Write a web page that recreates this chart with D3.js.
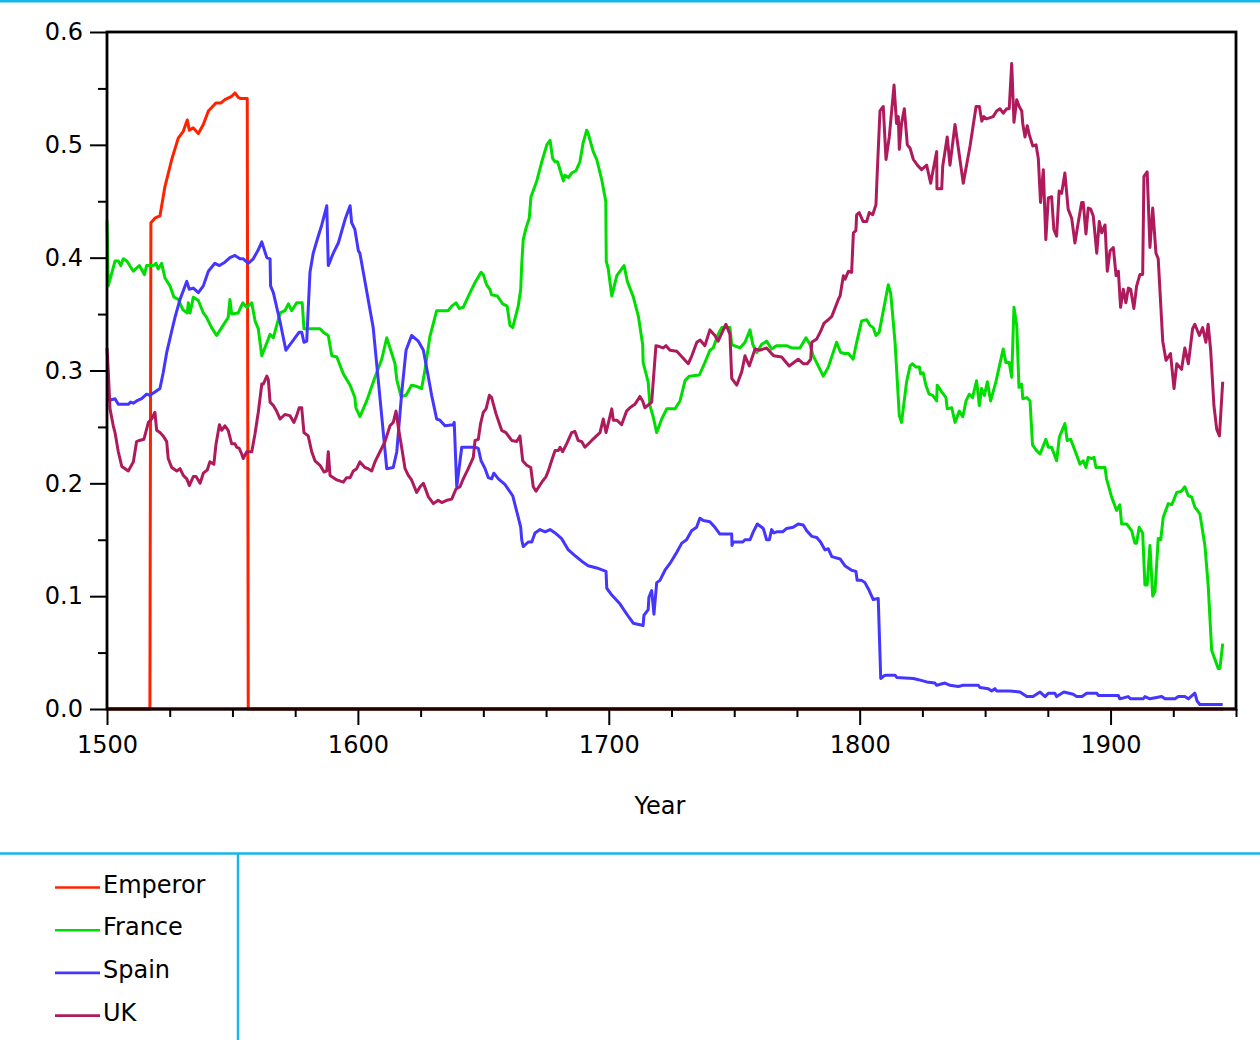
<!DOCTYPE html>
<html>
<head>
<meta charset="utf-8">
<script src="https://cdn.jsdelivr.net/npm/d3@7"></script>
<style>
  body { margin: 0; background: #fff; }
  svg { display: block; font-family: "DejaVu Sans", sans-serif; }
</style>
</head>
<body>
<div id="chart"></div>
<script>
// series: [year, share]
var emperor = [[1500,0],[1517.1,0],[1517.5,0.431],[1519.1,0.435],[1521.1,0.437],[1523.1,0.463],[1525.8,0.487],[1528.4,0.506],[1530.4,0.512],[1532,0.522],[1532.8,0.513],[1534.4,0.515],[1536.4,0.510],[1538.4,0.518],[1540.4,0.530],[1543.4,0.537],[1545.3,0.537],[1547,0.540],[1549.7,0.543],[1551,0.546],[1552.3,0.542],[1553.4,0.541],[1555.9,0.541],[1556.3,0],[1945,0]];

var france = [[1500,0.433],[1500.5,0.375],[1503.2,0.397],[1504.5,0.397],[1505.5,0.393],[1506.5,0.399],[1507.9,0.397],[1510.5,0.388],[1512.9,0.393],[1514.9,0.385],[1515.8,0.393],[1518.5,0.393],[1519.5,0.395],[1520.4,0.390],[1521.8,0.395],[1523.1,0.382],[1525.1,0.375],[1526.7,0.365],[1528.4,0.363],[1530.2,0.354],[1532,0.351],[1532.4,0.360],[1533.1,0.351],[1534.4,0.365],[1536.4,0.362],[1538.4,0.351],[1539.7,0.347],[1541.7,0.338],[1543.7,0.331],[1545.7,0.338],[1548.3,0.347],[1549,0.363],[1549.7,0.350],[1552.3,0.351],[1554.1,0.360],[1555.7,0.356],[1557.7,0.360],[1559,0.344],[1560.3,0.337],[1561.7,0.313],[1565,0.332],[1566.3,0.329],[1569,0.351],[1570.9,0.353],[1572.3,0.359],[1573.6,0.353],[1575.6,0.360],[1577.8,0.360],[1578.5,0.337],[1584.9,0.337],[1586.2,0.334],[1588.2,0.331],[1589.6,0.313],[1591.6,0.312],[1594.2,0.297],[1596.9,0.287],[1598.8,0.276],[1599.2,0.267],[1600.8,0.259],[1603.5,0.273],[1606.8,0.294],[1609.5,0.310],[1611.5,0.329],[1614.8,0.306],[1615.5,0.292],[1617.2,0.277],[1619.2,0.278],[1621.4,0.287],[1623.4,0.286],[1625.4,0.284],[1626.7,0.300],[1628.7,0.330],[1631.4,0.353],[1636,0.353],[1637.4,0.357],[1639.1,0.360],[1640.4,0.355],[1642,0.356],[1644.7,0.369],[1646.7,0.378],[1649.1,0.387],[1650,0.385],[1651.3,0.376],[1652.6,0.372],[1653.3,0.367],[1655.6,0.366],[1657.7,0.359],[1659.5,0.357],[1660.6,0.340],[1661.7,0.338],[1663.9,0.357],[1664.9,0.372],[1665.3,0.394],[1665.9,0.416],[1667,0.426],[1668.3,0.435],[1669,0.454],[1671.3,0.468],[1673.3,0.485],[1675.3,0.500],[1676.6,0.504],[1677.6,0.488],[1678.6,0.485],[1679.6,0.485],[1681.9,0.468],[1682.5,0.473],[1683.9,0.471],[1685.2,0.475],[1686.9,0.477],[1688.5,0.485],[1689.8,0.502],[1691.2,0.513],[1691.8,0.510],[1693.8,0.494],[1695.2,0.487],[1697.2,0.469],[1698.8,0.450],[1699,0.397],[1699.8,0.390],[1701.2,0.366],[1703.2,0.384],[1706.1,0.393],[1707.4,0.379],[1709.8,0.365],[1711.8,0.348],[1713.5,0.323],[1713.7,0.307],[1715.7,0.290],[1716.4,0.269],[1717.7,0.259],[1719.1,0.245],[1721.1,0.257],[1723.1,0.266],[1726.4,0.266],[1728.4,0.273],[1730.4,0.291],[1732.1,0.295],[1736.1,0.296],[1738.3,0.307],[1740.3,0.318],[1741.6,0.320],[1743.6,0.332],[1745,0.338],[1748.3,0.338],[1749,0.323],[1752.3,0.320],[1754.3,0.325],[1756.3,0.336],[1757.4,0.323],[1759,0.316],[1760.9,0.323],[1762.9,0.326],[1764.9,0.319],[1766.9,0.322],[1770.9,0.322],[1772.9,0.320],[1776.2,0.320],[1778.6,0.329],[1780.2,0.323],[1781.5,0.313],[1785.5,0.295],[1787.5,0.303],[1790.8,0.325],[1792.4,0.316],[1794.1,0.315],[1795.5,0.315],[1797.4,0.310],[1798.8,0.325],[1800.8,0.344],[1802.8,0.345],[1804.1,0.340],[1805.4,0.338],[1806.5,0.331],[1807.8,0.334],[1811.4,0.376],[1812.4,0.368],[1814.1,0.325],[1815.8,0.260],[1816.7,0.254],[1818.7,0.290],[1820.1,0.304],[1821.1,0.306],[1822.4,0.303],[1823.8,0.303],[1824.3,0.297],[1825.3,0.298],[1826.4,0.287],[1827.7,0.279],[1829.1,0.278],[1830.7,0.273],[1830.9,0.287],[1832.7,0.281],[1834.4,0.276],[1834.9,0.266],[1836.7,0.267],[1838,0.254],[1839.7,0.264],[1841.1,0.259],[1842.4,0.273],[1843.7,0.279],[1845,0.276],[1846.6,0.291],[1847.7,0.269],[1848.6,0.284],[1849.7,0.278],[1850.9,0.290],[1852.2,0.273],[1854.3,0.290],[1857.2,0.319],[1858.3,0.307],[1859.6,0.307],[1860.6,0.294],[1861.5,0.356],[1862.6,0.340],[1863.5,0.285],[1864.6,0.288],[1865,0.275],[1866.6,0.276],[1867.9,0.273],[1868.9,0.234],[1870.5,0.229],[1871.9,0.226],[1874.2,0.239],[1875.2,0.232],[1876.5,0.232],[1878.5,0.220],[1879.6,0.241],[1881.8,0.253],[1882.7,0.238],[1884.1,0.239],[1886.5,0.225],[1887.8,0.217],[1889.1,0.220],[1890.2,0.214],[1891.1,0.223],[1892.5,0.222],[1893.4,0.223],[1894.2,0.214],[1897.8,0.214],[1898.4,0.204],[1900.4,0.188],[1902.4,0.176],[1903.7,0.181],[1904.4,0.164],[1906.4,0.164],[1908.4,0.158],[1909.7,0.147],[1910.4,0.147],[1911.4,0.161],[1912.8,0.156],[1913.7,0.110],[1914.6,0.110],[1915.7,0.145],[1916.8,0.100],[1917.7,0.104],[1919,0.151],[1920,0.150],[1921,0.170],[1923,0.182],[1924.4,0.181],[1926.4,0.192],[1928.3,0.193],[1929.6,0.197],[1931,0.189],[1932.3,0.188],[1933.6,0.179],[1935.6,0.173],[1937.6,0.145],[1938.9,0.110],[1940.3,0.052],[1942.9,0.036],[1943.6,0.036],[1944.7,0.058]];

var spain = [[1500,0.273],[1503.2,0.275],[1504.5,0.270],[1508.5,0.270],[1509.4,0.272],[1510.5,0.271],[1511.8,0.273],[1513.8,0.275],[1515.8,0.279],[1517.1,0.278],[1519.1,0.281],[1521.1,0.284],[1522.4,0.298],[1523.8,0.316],[1525.8,0.335],[1527.1,0.347],[1529.1,0.363],[1531.8,0.379],[1532.8,0.372],[1534.4,0.373],[1536.4,0.369],[1538.4,0.375],[1540.4,0.388],[1543,0.395],[1544.8,0.393],[1547,0.396],[1549,0.400],[1551,0.402],[1553,0.399],[1554.3,0.399],[1556.3,0.395],[1558.3,0.399],[1560.3,0.407],[1561.7,0.414],[1563.7,0.400],[1565,0.399],[1565.2,0.375],[1566.3,0.369],[1569,0.343],[1571.3,0.318],[1573.6,0.325],[1576.6,0.334],[1577.6,0.334],[1578.5,0.325],[1579.6,0.326],[1580.9,0.387],[1582.2,0.404],[1584.2,0.419],[1585.6,0.429],[1587.6,0.446],[1588.2,0.393],[1590.2,0.404],[1592.2,0.413],[1594.9,0.434],[1596.9,0.446],[1597.5,0.431],[1598.8,0.425],[1600.2,0.406],[1600.8,0.404],[1602.8,0.379],[1606.1,0.338],[1608.1,0.292],[1611.5,0.213],[1614.1,0.214],[1615.5,0.228],[1617.5,0.281],[1619.2,0.318],[1621.4,0.331],[1624.1,0.326],[1626.1,0.318],[1628.1,0.294],[1629.4,0.278],[1631.4,0.257],[1632.7,0.256],[1634.7,0.251],[1638,0.252],[1638.4,0.254],[1639.4,0.197],[1641.4,0.232],[1646.7,0.232],[1648,0.231],[1649.1,0.220],[1650.7,0.213],[1652,0.205],[1653.3,0.204],[1654.2,0.209],[1656,0.204],[1658.6,0.199],[1661.7,0.189],[1663.9,0.170],[1664.9,0.161],[1665.3,0.150],[1665.9,0.144],[1667.9,0.148],[1669.3,0.148],[1670.6,0.156],[1672.6,0.159],[1674.6,0.157],[1676.6,0.159],[1678.6,0.156],[1681.2,0.151],[1683.9,0.141],[1686.5,0.136],[1689.2,0.131],[1691.8,0.127],[1695.2,0.125],[1698.9,0.122],[1699.2,0.107],[1701.2,0.101],[1704.5,0.093],[1707.8,0.082],[1709.8,0.076],[1713.7,0.074],[1714,0.083],[1715.7,0.088],[1716,0.099],[1717.1,0.105],[1718,0.084],[1719.1,0.112],[1720.4,0.114],[1722.4,0.123],[1724.4,0.129],[1727.1,0.139],[1729.1,0.147],[1731,0.150],[1733,0.158],[1735,0.161],[1736.3,0.169],[1737.7,0.167],[1740.3,0.166],[1742.3,0.161],[1744.3,0.155],[1749,0.155],[1749.1,0.145],[1749.6,0.148],[1753.4,0.148],[1754.3,0.150],[1756.3,0.150],[1757.6,0.157],[1759.2,0.164],[1761.6,0.160],[1762.9,0.150],[1764,0.150],[1764.9,0.159],[1765.8,0.156],[1766.9,0.157],[1769.3,0.157],[1770.9,0.160],[1773.5,0.161],[1775.5,0.164],[1777.5,0.163],[1778.9,0.158],[1780.9,0.153],[1782.9,0.152],[1784.4,0.148],[1786.2,0.141],[1787.5,0.142],[1788.9,0.135],[1792.2,0.133],[1794.1,0.127],[1796.8,0.123],[1798.5,0.122],[1799,0.114],[1800.8,0.114],[1802.1,0.112],[1803.8,0.105],[1805.4,0.097],[1807.4,0.098],[1808.4,0.027],[1810.1,0.030],[1814.1,0.030],[1814.8,0.028],[1821.4,0.027],[1823.4,0.026],[1826.7,0.024],[1830,0.023],[1830.7,0.021],[1834,0.023],[1836,0.021],[1839.3,0.020],[1841.3,0.021],[1847.3,0.021],[1848,0.019],[1851.3,0.018],[1852.6,0.016],[1853.9,0.018],[1854.6,0.016],[1859.9,0.016],[1863.9,0.015],[1866.6,0.011],[1869.1,0.011],[1871.9,0.015],[1873.9,0.011],[1875.2,0.014],[1877.8,0.014],[1878.5,0.011],[1881.4,0.015],[1885.1,0.013],[1886.5,0.011],[1888.6,0.011],[1890.5,0.014],[1894.5,0.014],[1895.1,0.012],[1903.1,0.012],[1903.7,0.009],[1907,0.011],[1908,0.009],[1913,0.009],[1913.7,0.011],[1915.7,0.009],[1920.4,0.011],[1921.7,0.009],[1925.7,0.009],[1927,0.011],[1929.6,0.011],[1931,0.009],[1933.6,0.014],[1934.5,0.007],[1935.6,0.004],[1944.7,0.004]];

var uk = [[1500,0.320],[1500.5,0.300],[1501.2,0.266],[1502.5,0.251],[1503.2,0.245],[1504.5,0.228],[1505.9,0.215],[1508.5,0.211],[1510.5,0.219],[1511.8,0.237],[1512.9,0.238],[1514.7,0.239],[1516.5,0.254],[1517.8,0.257],[1519.1,0.263],[1519.8,0.247],[1521.1,0.245],[1522.4,0.242],[1523.8,0.237],[1524.4,0.222],[1525.8,0.214],[1527.8,0.211],[1529.1,0.213],[1530.4,0.207],[1531.8,0.204],[1532.8,0.198],[1534.4,0.206],[1535.5,0.206],[1537.1,0.200],[1538.4,0.209],[1540,0.212],[1541,0.219],[1542.6,0.217],[1543.4,0.234],[1544.8,0.252],[1545.7,0.247],[1547,0.251],[1548.3,0.247],[1549.7,0.235],[1551,0.235],[1551.7,0.232],[1552.7,0.231],[1553.7,0.226],[1554.3,0.222],[1555.7,0.228],[1557.7,0.228],[1559,0.244],[1560.3,0.263],[1561.7,0.288],[1562.3,0.288],[1563.7,0.295],[1564.3,0.292],[1565,0.272],[1566.3,0.269],[1567.6,0.264],[1569,0.257],[1570.9,0.261],[1572.9,0.260],[1574.5,0.254],[1575.6,0.260],[1576.6,0.267],[1577.6,0.267],[1578.5,0.245],[1580.2,0.242],[1581.6,0.228],[1582.9,0.220],[1584.9,0.216],[1586.5,0.210],[1587.6,0.211],[1588.2,0.228],[1588.9,0.207],[1591.6,0.203],[1594.2,0.201],[1595.5,0.205],[1596.9,0.205],[1598.2,0.211],[1599.5,0.213],[1600.8,0.219],[1602.8,0.214],[1604.1,0.213],[1605.5,0.211],[1606.8,0.219],[1608.8,0.228],[1610.8,0.237],[1612.8,0.251],[1614.1,0.254],[1615.2,0.264],[1616.1,0.250],[1617.5,0.231],[1618.8,0.213],[1620.1,0.207],[1621.4,0.203],[1623.4,0.192],[1624.8,0.197],[1626.1,0.200],[1628.1,0.188],[1630.1,0.182],[1632,0.185],[1633.4,0.183],[1635.4,0.185],[1637.4,0.186],[1639.1,0.195],[1640.7,0.197],[1642,0.204],[1644,0.213],[1646,0.223],[1646.7,0.238],[1648,0.239],[1648.9,0.253],[1650,0.263],[1651.1,0.266],[1652.4,0.278],[1653.3,0.276],[1655,0.262],[1657.3,0.247],[1659,0.245],[1661.3,0.238],[1663.3,0.237],[1664.6,0.242],[1665.7,0.220],[1667.3,0.216],[1668.9,0.214],[1669.9,0.197],[1671,0.193],[1673.3,0.201],[1675,0.206],[1675.9,0.211],[1677.2,0.220],[1678.6,0.229],[1679.9,0.229],[1680.6,0.232],[1681.6,0.228],[1683.2,0.235],[1685.2,0.245],[1686.5,0.246],[1687.8,0.238],[1689.2,0.237],[1690.5,0.232],[1693.2,0.238],[1696.5,0.245],[1697.8,0.257],[1698.9,0.245],[1701.2,0.266],[1701.8,0.256],[1703.2,0.256],[1705.1,0.252],[1707.1,0.264],[1708.4,0.267],[1710.4,0.270],[1712.4,0.277],[1713.5,0.273],[1714.4,0.267],[1717.1,0.272],[1718.8,0.322],[1720.4,0.321],[1721.7,0.320],[1722.8,0.322],[1724.4,0.318],[1727.1,0.317],[1731.7,0.306],[1733.1,0.313],[1735.1,0.325],[1736.4,0.327],[1738.3,0.322],[1740.3,0.336],[1742.3,0.331],[1743.6,0.326],[1746.7,0.341],[1748.3,0.332],[1749,0.293],[1751,0.287],[1753,0.299],[1754.3,0.313],[1756,0.304],[1758.3,0.319],[1760.3,0.318],[1762.9,0.320],[1764.9,0.315],[1765.8,0.313],[1768.9,0.312],[1771.9,0.304],[1775.5,0.310],[1777.5,0.306],[1779.1,0.306],[1780.5,0.310],[1780.9,0.325],[1782.9,0.328],[1784.5,0.335],[1785.8,0.342],[1787.5,0.345],[1788.9,0.348],[1791.5,0.363],[1792.2,0.366],[1793.5,0.384],[1794.2,0.381],[1795.5,0.388],[1796.8,0.387],[1797.5,0.422],[1798.5,0.424],[1798.8,0.438],[1799.8,0.440],[1801.4,0.432],[1802.8,0.432],[1803.8,0.440],[1805.2,0.438],[1806.5,0.447],[1807,0.475],[1808.1,0.530],[1809.4,0.534],[1810.5,0.487],[1811.8,0.507],[1813.7,0.553],[1814.7,0.519],[1815.4,0.525],[1815.8,0.496],[1816.7,0.519],[1817.8,0.532],[1819,0.500],[1820.1,0.497],[1821.4,0.487],[1823,0.482],[1824.7,0.478],[1826.7,0.482],[1828.3,0.466],[1829.3,0.478],[1830.7,0.494],[1830.8,0.461],[1832.7,0.461],[1833.1,0.481],[1834.9,0.507],[1836,0.482],[1838,0.518],[1841.3,0.466],[1844,0.499],[1846.4,0.534],[1847.7,0.534],[1848.7,0.521],[1849.5,0.525],[1850.6,0.523],[1853.2,0.525],[1854.6,0.530],[1855.9,0.532],[1857.2,0.528],[1858.6,0.532],[1859.6,0.532],[1860.6,0.572],[1861.5,0.520],[1862.6,0.540],[1863.6,0.534],[1864.6,0.530],[1865,0.519],[1865.9,0.507],[1866.8,0.517],[1867.6,0.509],[1869,0.499],[1870.3,0.500],[1871.2,0.488],[1872.1,0.449],[1873.2,0.478],[1874.2,0.416],[1875.2,0.453],[1876.5,0.454],[1877.4,0.425],[1878.5,0.419],[1879.5,0.459],[1880.5,0.457],[1881.8,0.475],[1883.1,0.443],[1884.5,0.435],[1885.8,0.413],[1887.1,0.431],[1888.5,0.449],[1889.1,0.449],[1890.2,0.421],[1891.1,0.444],[1892.1,0.443],[1893.1,0.437],[1894.5,0.404],[1895.5,0.432],[1896.5,0.422],[1897.8,0.429],[1898.7,0.388],[1899.8,0.406],[1901.1,0.409],[1902.2,0.384],[1903.1,0.388],[1904,0.356],[1905.1,0.372],[1906.1,0.360],[1907.1,0.373],[1908,0.372],[1909.3,0.355],[1910.4,0.375],[1911.7,0.385],[1912.8,0.385],[1913.3,0.472],[1914.6,0.476],[1915.7,0.409],[1916.8,0.444],[1918.1,0.404],[1919,0.399],[1920.8,0.326],[1922.1,0.309],[1923.9,0.315],[1925.3,0.284],[1926.4,0.306],[1928.3,0.301],[1929.6,0.320],[1931,0.306],[1932.7,0.337],[1933.6,0.341],[1935.4,0.331],[1936.7,0.338],[1938,0.325],[1938.9,0.341],[1939.9,0.318],[1941.2,0.269],[1942.3,0.248],[1943.4,0.242],[1944.7,0.290]];

var seriesNames = ["Emperor", "France", "Spain", "UK"];
var seriesData = [emperor, france, spain, uk];
var seriesColors = ["#ff2200", "#00dd00", "#4436ff", "#ae1a5c"];

var yMajor = [0, 0.1, 0.2, 0.3, 0.4, 0.5, 0.6];
var yMinor = [0.05, 0.15, 0.25, 0.35, 0.45, 0.55];
var xMajor = [1500, 1600, 1700, 1800, 1900];
var xMinor = [1525, 1550, 1575, 1625, 1650, 1675, 1725, 1750, 1775, 1825, 1850, 1875, 1925, 1950];

var W = 1260, H = 1040;
var margin = {top: 32, right: 24, bottom: 331, left: 107},
    width = W - margin.left - margin.right,
    height = H - margin.top - margin.bottom;

var svg = d3.select("#chart")
  .append("svg")
    .attr("width", W)
    .attr("height", H);

svg.append("rect").attr("width", W).attr("height", H).attr("fill", "#fff");

// pane separators
var cyan = "#16b6e8";
svg.append("line").attr("x1", 0).attr("x2", W).attr("y1", 1).attr("y2", 1)
  .attr("stroke", cyan).attr("stroke-width", 3);
svg.append("line").attr("x1", 0).attr("x2", W).attr("y1", 853.5).attr("y2", 853.5)
  .attr("stroke", cyan).attr("stroke-width", 2.5);
svg.append("line").attr("x1", 238).attr("x2", 238).attr("y1", 853).attr("y2", H)
  .attr("stroke", cyan).attr("stroke-width", 2.5);

var g = svg.append("g")
  .attr("transform", "translate(" + margin.left + "," + margin.top + ")");

var x = d3.scaleLinear().domain([1500, 1950]).range([0, width]);
var y = d3.scaleLinear().domain([0, 0.6]).range([height, 0]);

// lines
var line = d3.line()
  .x(function(d) { return x(d[0]); })
  .y(function(d) { return y(d[1]); });

seriesData.forEach(function(s, i) {
  g.append("path")
    .datum(s)
    .attr("fill", "none")
    .attr("stroke", seriesColors[i])
    .attr("stroke-width", 3)
    .attr("stroke-linejoin", "round")
    .attr("d", line);
});

// frame
g.append("rect")
  .attr("width", width).attr("height", height)
  .attr("fill", "none").attr("stroke", "#000").attr("stroke-width", 2.8);
g.append("line").attr("x1", 0).attr("x2", width).attr("y1", height).attr("y2", height)
  .attr("stroke", "#1c0000").attr("stroke-width", 2.8);

// axes
function styleAxis(sel) {
  sel.select(".domain").remove();
  sel.selectAll(".tick line").attr("stroke", "#000").attr("stroke-width", 2);
  sel.selectAll(".tick text").attr("fill", "#000")
    .style("font-size", "24px").style("font-family", "DejaVu Sans, sans-serif");
}

g.append("g")
  .call(d3.axisLeft(y).tickValues(yMajor).tickSize(17).tickPadding(7).tickFormat(d3.format(".1f")))
  .call(styleAxis);
g.append("g")
  .call(d3.axisLeft(y).tickValues(yMinor).tickSize(9).tickFormat(""))
  .call(styleAxis);

g.append("g")
  .attr("transform", "translate(0," + height + ")")
  .call(d3.axisBottom(x).tickValues(xMajor).tickSize(16).tickPadding(11).tickFormat(d3.format("d")))
  .call(styleAxis);
g.append("g")
  .attr("transform", "translate(0," + height + ")")
  .call(d3.axisBottom(x).tickValues(xMinor).tickSize(8).tickFormat(""))
  .call(styleAxis);

// x axis title
svg.append("text")
  .attr("x", 660)
  .attr("y", 814)
  .attr("text-anchor", "middle")
  .style("font-size", "24px")
  .text("Year");

// legend
var legend = svg.append("g");
seriesNames.forEach(function(name, i) {
  var ly = 887.5 + i * 42.7;
  legend.append("line")
    .attr("x1", 55).attr("x2", 100).attr("y1", ly).attr("y2", ly)
    .attr("stroke", seriesColors[i]).attr("stroke-width", 2.6);
  legend.append("text")
    .attr("x", 103).attr("y", ly + 5)
    .style("font-size", "24px")
    .text(name);
});
</script>
</body>
</html>
